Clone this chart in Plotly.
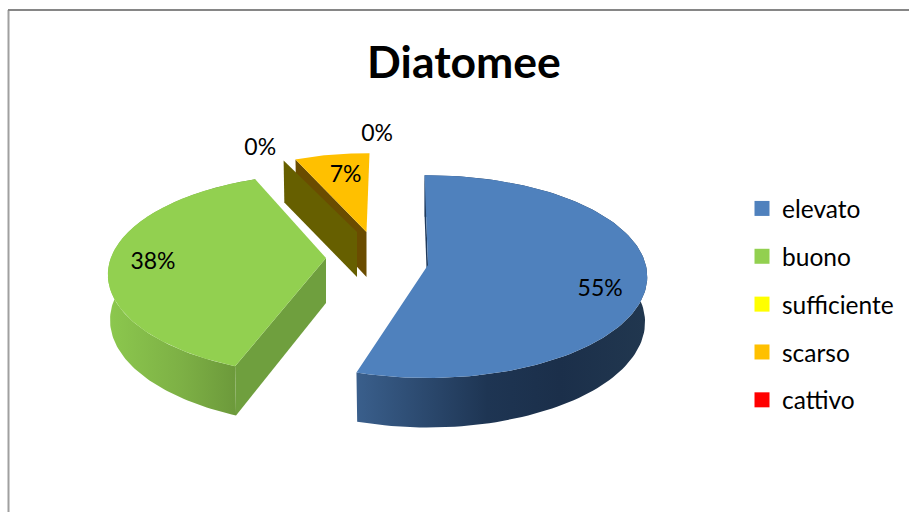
import numpy as np
import plotly.graph_objects as go

# --- data ---
categories = ["elevato", "buono", "sufficiente", "scarso", "cattivo"]
values = [55, 38, 0, 7, 0]
title = "Diatomee"

# --- styles ---
top_colors = ["#4f81bd", "#92d050", "#ffff00", "#ffc000", "#ff0000"]
face_colors = ["#1f3a5c", "#6f9f3e", "#665f00", "#6a4c00", "#800000"]
wall_scales = [
    [[0, "#3a5f8c"], [0.45, "#1e3553"], [0.7, "#1b2f4a"], [1, "#21374f"]],
    [[0, "#8cc84e"], [0.5, "#7db045"], [1, "#669137"]],
    None, None, None,
]
# explosion / projection style of each slice: ellipse centre, tip shift, radius factor, rotation
apex_x = [428, 326, 357, 366.5, 366.5]
apex_y = [265, 263, 232, 232, 232]
tip_dy = [0, -5, 0, 0, 0]
radius = [0.99, 0.985, 0.865, 0.87, 0.87]
rotate = [-1, 4, 0, 1, 1]
label_r = [0.79, 0.79, 1.25, 0.72, 1.2]
label_dx = [-1, -2, -5, 4, 7]
label_dy = [14, 1, 7, 0, -2]

RX, RY, K, DEPTH = 220.0, 101.0, 0.115, 45.0


def project(theta_deg, r=1.0):
    t = np.radians(theta_deg)
    s = 1.0 / (1.0 + K * np.cos(t))
    return r * RX * np.sin(t) * s, -r * RY * np.cos(t) * s


def drop(dx, dy, ax, ay):
    return ax + dx * 0.99, ay + DEPTH + dy * 1.04


cum = np.concatenate([[0], np.cumsum(values)]) * 3.6
fig = go.Figure()


def poly(xs, ys, color=None, scale=None):
    kw = dict(fill="toself", mode="lines", line=dict(width=0), hoverinfo="skip", showlegend=False)
    if scale:
        kw["fillgradient"] = dict(type="horizontal", colorscale=scale)
    else:
        kw["fillcolor"] = color
    fig.add_trace(go.Scatter(x=list(xs), y=list(ys), **kw))


draw_order = [3, 2, 1, 0]
for i in draw_order:
    a0, a1 = cum[i] + rotate[i], cum[i + 1] + rotate[i]
    ax, ay, r = apex_x[i], apex_y[i], radius[i]
    tip_y = ay + tip_dy[i]
    th = np.linspace(a0, a1, 120)
    dx, dy = project(th, r)
    bx, by = drop(dx, dy, ax, ay)
    apx, apy = ax, tip_y + DEPTH
    # outer rim wall
    if wall_scales[i] is not None:
        poly(np.r_[ax + dx, bx[::-1]], np.r_[ay + dy, by[::-1]], scale=wall_scales[i])
    # radial wall at the slice's starting edge
    sx, sy = ax + dx[0], ay + dy[0]
    poly([sx, ax, apx, bx[0], sx], [sy, tip_y, apy, by[0], sy], face_colors[i])
    # top surface
    if values[i] > 0:
        poly(np.r_[ax, ax + dx, ax], np.r_[tip_y, ay + dy, tip_y], top_colors[i])

# percentage labels
lx, ly, lt = [], [], []
for i, v in enumerate(values):
    mid = (cum[i] + cum[i + 1]) / 2 + rotate[i]
    dx, dy = project(mid, radius[i] * label_r[i])
    lx.append(apex_x[i] + dx + label_dx[i])
    ly.append(apex_y[i] + dy + label_dy[i])
    lt.append(f"{v}%")
fig.add_trace(go.Scatter(x=lx, y=ly, text=lt, mode="text", textposition="middle center",
                         textfont=dict(family="Lato", size=23, color="#000000"),
                         hoverinfo="skip", showlegend=False))

# legend
for i, c in enumerate(categories):
    fig.add_trace(go.Scatter(x=[None], y=[None], mode="markers", name=c, legendgroup=c,
                             marker=dict(symbol="square", size=15, color=top_colors[i])))

fig.update_layout(
    width=909, height=512,
    margin=dict(l=0, r=0, t=0, b=0),
    paper_bgcolor="#ffffff", plot_bgcolor="#ffffff",
    xaxis=dict(range=[0, 909], visible=False, fixedrange=True),
    yaxis=dict(range=[512, 0], visible=False, fixedrange=True),
    title=dict(text=f"<b>{title}</b>", x=464 / 909, y=1 - 62 / 512, xanchor="center", yanchor="middle",
               font=dict(family="Lato", size=44.5, color="#000000")),
    legend=dict(x=747 / 909, y=1 - 186 / 512, xanchor="left", yanchor="top",
                font=dict(family="Lato", size=24.5, color="#000000"), indentation=-5,
                tracegroupgap=13, itemsizing="trace", bgcolor="rgba(0,0,0,0)"),
    shapes=[
        dict(type="line", xref="x", yref="y", x0=8.5, x1=8.5, y0=10, y1=512,
             line=dict(color="#a0a0a0", width=2), layer="below"),
        dict(type="line", xref="x", yref="y", x0=8, x1=909, y0=10, y1=10,
             line=dict(color="#868686", width=2), layer="below"),
    ],
)
fig.write_html("out.html", config={"displayModeBar": False},
               post_script="document.body.style.margin='0';document.documentElement.style.overflow='hidden';")
